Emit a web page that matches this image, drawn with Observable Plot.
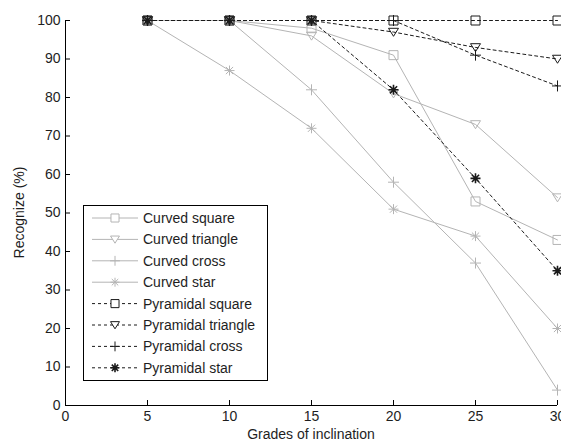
<!DOCTYPE html>
<html><head><meta charset="utf-8">
<script src="https://cdn.jsdelivr.net/npm/d3@7"></script>
<script src="https://cdn.jsdelivr.net/npm/@observablehq/plot@0.6"></script>
<style>
body{margin:0;background:#fff;}
#chart svg{font-family:"Liberation Sans",Arial,sans-serif;}
</style>
</head><body><div id="chart"></div>
<script>
// ---- data ----
const grades = [5, 10, 15, 20, 25, 30];
const curvedSquare   = [100, 100, 98, 91, 53, 43];
const curvedTriangle = [100, 100, 96, 81, 73, 54];
const curvedCross    = [100, 100, 82, 58, 37, 4];
const curvedStar     = [100, 87, 72, 51, 44, 20];
const pyrSquare      = [100, 100, 100, 100, 100, 100];
const pyrTriangle    = [100, 100, 100, 97, 93, 90];
const pyrCross       = [100, 100, 100, 100, 91, 83];
const pyrStar        = [100, 100, 100, 82, 59, 35];
const seriesNames = ["Curved square","Curved triangle","Curved cross","Curved star",
  "Pyramidal square","Pyramidal triangle","Pyramidal cross","Pyramidal star"];
const seriesValues = [curvedSquare, curvedTriangle, curvedCross, curvedStar,
  pyrSquare, pyrTriangle, pyrCross, pyrStar];
const xTicks = [0, 5, 10, 15, 20, 25, 30];
const yTicks = [0, 10, 20, 30, 40, 50, 60, 70, 80, 90, 100];
const xLabel = "Grades of inclination";
const yLabel = "Recognize (%)";

// ---- layout ----
const W = 561, H = 444, mL = 65, mR = 4, mT = 20, mB = 39;
const GRAY = "#b4b4b4", DARK = "#1a1a1a", TXT = "#1e1e1e", FS = "14px";

// MATLAB-like markers
function sym(fn){ return {draw(ctx, size){ fn(ctx, Math.sqrt(size / Math.PI)); }}; }
const SQUARE = sym((c, r) => { const s = r * 0.9; c.rect(-s, -s, 2 * s, 2 * s); });
const TRI_DOWN = sym((c, r) => { c.moveTo(-r, -0.75 * r); c.lineTo(r, -0.75 * r); c.lineTo(0, 0.85 * r); c.closePath(); });
const PLUS = sym((c, r) => { const s = r * 1.1; c.moveTo(-s, 0); c.lineTo(s, 0); c.moveTo(0, -s); c.lineTo(0, s); });
const STAR = sym((c, r) => { const s = r, d = r * 0.72;
  c.moveTo(-s, 0); c.lineTo(s, 0); c.moveTo(0, -s); c.lineTo(0, s);
  c.moveTo(-d, -d); c.lineTo(d, d); c.moveTo(-d, d); c.lineTo(d, -d); });
const symbols = [SQUARE, TRI_DOWN, PLUS, STAR, SQUARE, TRI_DOWN, PLUS, STAR];

const styles = seriesNames.map((n, i) => ({
  name: n,
  symbol: symbols[i],
  stroke: i < 4 ? GRAY : DARK,
  dash: i < 4 ? null : "3,3",
  markerWidth: i === 7 ? 1.6 : 1
}));

const rows = [];
seriesValues.forEach((vals, i) => vals.forEach((v, j) => rows.push({series: seriesNames[i], x: grades[j], y: v})));

const marks = [];
styles.forEach(st => {
  const d = rows.filter(r => r.series === st.name);
  marks.push(Plot.line(d, {x: "x", y: "y", stroke: st.stroke, strokeWidth: 1, strokeDasharray: st.dash || undefined}));
  marks.push(Plot.dot(d, {x: "x", y: "y", symbol: st.symbol, r: 5, stroke: st.stroke, fill: "none", strokeWidth: st.markerWidth}));
});

const frameW = W - mL - mR, frameH = H - mT - mB;
const plot = Plot.plot({
  width: W, height: H,
  marginLeft: mL, marginRight: mR, marginTop: mT, marginBottom: mB,
  style: {fontSize: FS, fontFamily: "Liberation Sans, Arial, sans-serif", color: TXT, background: "#fff", overflow: "visible"},
  x: {domain: [0, 30], ticks: xTicks, tickSize: 0, tickPadding: 6, label: null},
  y: {domain: [0, 100], ticks: yTicks, tickSize: 0, tickPadding: 5, label: null},
  marks: [
    Plot.tickX(xTicks, {x: d => d, insetTop: frameH - 5, stroke: "#000"}),
    Plot.tickY(yTicks, {y: d => d, insetRight: frameW - 5, stroke: "#000"}),
    ...marks,
    Plot.ruleX([0], {stroke: "#000"}),
    Plot.ruleY([0], {stroke: "#000"})
  ]
});
document.getElementById("chart").appendChild(plot);

// axis titles and legend
const svg = d3.select(plot);
svg.append("text").attr("x", mL + frameW / 2).attr("y", 439).attr("text-anchor", "middle")
  .attr("fill", TXT).style("font-size", FS).text(xLabel);
svg.append("text").attr("transform", `translate(24,${mT + frameH / 2}) rotate(-90)`).attr("text-anchor", "middle")
  .attr("fill", TXT).style("font-size", FS).text(yLabel);

const lg = svg.append("g").attr("text-anchor", "start");
lg.append("rect").attr("x", 83.5).attr("y", 205.5).attr("width", 184).attr("height", 175)
  .attr("fill", "#fff").attr("stroke", "#000");
styles.forEach((st, i) => {
  const y = 218 + i * 21.4;
  lg.append("line").attr("x1", 92).attr("x2", 138).attr("y1", y).attr("y2", y)
    .attr("stroke", st.stroke).attr("stroke-dasharray", st.dash);
  lg.append("path").attr("transform", `translate(115,${y})`)
    .attr("d", d3.symbol().type(st.symbol).size(20 * Math.PI)())
    .attr("fill", "#fff").attr("stroke", st.stroke).attr("stroke-width", st.markerWidth);
  lg.append("text").attr("x", 143).attr("y", y).attr("dy", "0.35em").attr("fill", TXT)
    .attr("text-anchor", "start").style("font-size", FS).text(st.name);
});
</script>
</body></html>
